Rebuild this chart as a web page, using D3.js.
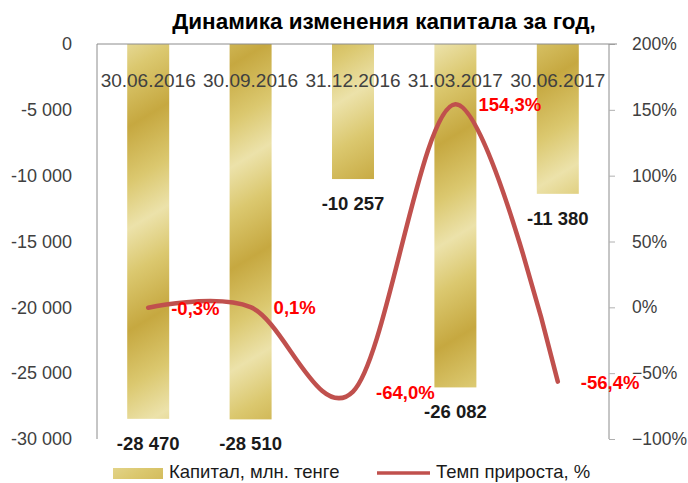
<!DOCTYPE html>
<html><head><meta charset="utf-8">
<script src="https://cdn.jsdelivr.net/npm/d3@7"></script>
<style>
html,body{margin:0;padding:0;background:#fff;}
svg{display:block;font-family:"Liberation Sans",Arial,sans-serif;}
</style></head>
<body>
<svg id="chart" width="688" height="483"></svg>
<script>
const title = "Динамика изменения капитала за год,";
const categories = ["30.06.2016","30.09.2016","31.12.2016","31.03.2017","30.06.2017"];
const capital = [-28470, -28510, -10257, -26082, -11380];
const growth = [-0.003, 0.001, -0.640, 1.543, -0.564];
const growthLabels = ["-0,3%","0,1%","-64,0%","154,3%","-56,4%"];
const leftTicks = [0,-5000,-10000,-15000,-20000,-25000,-30000];
const rightTicks = [2,1.5,1,0.5,0,-0.5,-1];
const legendNames = ["Капитал, млн. тенге","Темп прироста, %"];

const svg = d3.select("#chart");
const L = 97, R = 609, T = 44, B = 439;

const defs = svg.append("defs");
const g = defs.append("linearGradient").attr("id","gold")
  .attr("gradientUnits","userSpaceOnUse")
  .attr("x1",0).attr("y1",0).attr("x2",45).attr("y2",75)
  .attr("spreadMethod","reflect");
g.append("stop").attr("offset","0%").attr("stop-color","#c6a840");
g.append("stop").attr("offset","55%").attr("stop-color","#dbc86f");
g.append("stop").attr("offset","100%").attr("stop-color","#ece2aa");

const x = d3.scaleBand().domain(categories).range([L,R]).paddingInner(0.59).paddingOuter(0.295);
const yL = d3.scaleLinear().domain([-30000,0]).range([B,T]);
const yR = d3.scaleLinear().domain([-1,2]).range([B,T]);
const cx = c => x(c) + x.bandwidth()/2;

const fmt = v => (v<0?"-":"") + d3.format(",")(Math.abs(v)).replace(/,/g," ");
const fmtTick = v => v===0 ? "0" : fmt(v);

// bars
svg.append("g").selectAll("rect").data(capital).join("rect")
  .attr("x",(d,i)=>x(categories[i]))
  .attr("width",x.bandwidth())
  .attr("y",yL(0))
  .attr("height",d=>yL(d)-yL(0))
  .attr("fill","url(#gold)");

// axes
const axisColor = "#8c8c8c";
const leftAxis = d3.axisLeft(yL).tickValues(leftTicks).tickSize(0).tickPadding(25).tickFormat(fmtTick);
const gl = svg.append("g").attr("transform",`translate(${L},0)`).call(leftAxis);
gl.select(".domain").attr("stroke",axisColor).attr("d",`M0,${T}V${B}`);
gl.selectAll("text").attr("font-size",18).attr("fill","#404040");

const rightAxis = d3.axisRight(yR).tickValues(rightTicks).tickSize(6).tickPadding(17).tickFormat(d3.format(".0%"));
const gr = svg.append("g").attr("transform",`translate(${R},0)`).call(rightAxis);
gr.select(".domain").attr("stroke",axisColor).attr("d",`M0,${T}V${B}`);
gr.selectAll("line").attr("stroke","#b0b0b0");
gr.selectAll("text").attr("font-size",17.5).attr("fill","#404040");

// top category axis line
svg.append("line").attr("x1",L).attr("x2",R+8).attr("y1",yL(0)).attr("y2",yL(0)).attr("stroke",axisColor);

// category labels
svg.append("g").selectAll("text").data(categories).join("text")
  .attr("x",d=>cx(d)).attr("y",87).attr("text-anchor","middle")
  .attr("font-size",19).attr("fill","#404040").text(d=>d);

// bar value labels
svg.append("g").selectAll("text").data(capital).join("text")
  .attr("x",(d,i)=>cx(categories[i])).attr("y",d=>yL(d)+31).attr("text-anchor","middle")
  .attr("font-size",18.5).attr("font-weight","bold").attr("fill","#1a1a1a").text(d=>fmt(d));

// line
const pts = growth.map((v,i)=>[cx(categories[i]), yR(v)]);
svg.append("path").attr("d",d3.line().curve(d3.curveCardinal.tension(0))(pts))
  .attr("fill","none").attr("stroke","#c0504d").attr("stroke-width",4.5).attr("stroke-linecap","round");

svg.append("g").selectAll("text").data(growth).join("text")
  .attr("x",(d,i)=>cx(categories[i])+23).attr("y",d=>yR(d)+7)
  .attr("font-size",18.5).attr("font-weight","bold").attr("fill","#ff0000").text((d,i)=>growthLabels[i]);

// title
svg.append("text").attr("x",384).attr("y",29).attr("text-anchor","middle")
  .attr("font-size",22.5).attr("font-weight","bold").attr("fill","#000").text(title);

// legend
svg.append("rect").attr("x",113).attr("y",468).attr("width",50).attr("height",11).attr("fill","url(#gold)");
svg.append("text").attr("x",169).attr("y",478).attr("font-size",18.5).attr("fill","#1a1a1a").text(legendNames[0]);
svg.append("line").attr("x1",377).attr("x2",430).attr("y1",473).attr("y2",473).attr("stroke","#c0504d").attr("stroke-width",3.5);
svg.append("text").attr("x",436).attr("y",478).attr("font-size",18.5).attr("fill","#1a1a1a").text(legendNames[1]);
</script>
</body></html>
